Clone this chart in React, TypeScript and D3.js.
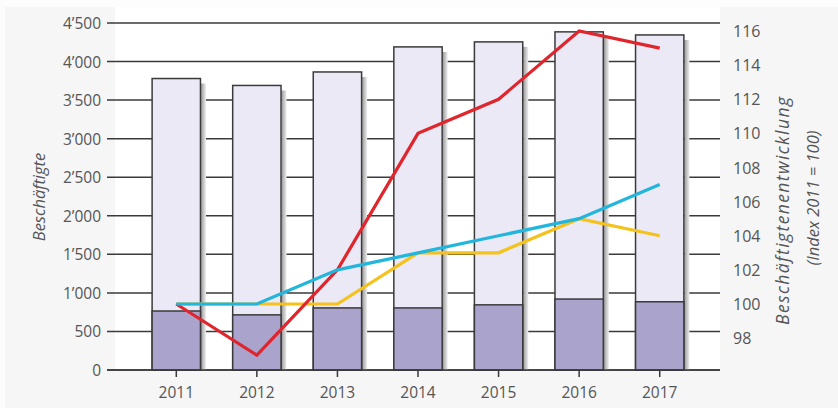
import React from "react";
import * as d3 from "d3";

const years = ["2011", "2012", "2013", "2014", "2015", "2016", "2017"];
// total employees (bar height) and lower segment
const totalValues = [3780, 3690, 3865, 4190, 4255, 4385, 4345];
const lowerValues = [765, 715, 805, 805, 845, 920, 885];
// index series (2011 = 100)
const redIndex = [100, 97, 102, 110, 112, 116, 115];
const yellowIndex = [100, 100, 100, 103, 103, 105, 104];
const blueIndex = [100, 100, 102, 103, 104, 105, 107];

const leftTicks = [0, 500, 1000, 1500, 2000, 2500, 3000, 3500, 4000, 4500];
const rightTicks = [98, 100, 102, 104, 106, 108, 110, 112, 114, 116];

const W = 838;
const H = 408;
const FONT = "'Open Sans', 'DejaVu Sans', sans-serif";
const TEXT = "#555";
const GRID = "#3a3a3a";

const fmt = d3.formatLocale({ decimal: ".", thousands: "\u2019", grouping: [3], currency: ["", ""] }).format(",d");

export default function App() {
  const x = d3.scaleBand<string>().domain(years).range([136, 700]).paddingInner(0.4).paddingOuter(0.2);
  const yL = d3.scaleLinear().domain([0, 4500]).range([370, 23]);
  const yR = d3.scaleLinear().domain([100, 116]).range([304, 31]);
  const bw = x.bandwidth();
  const cx = (y: string) => (x(y) || 0) + bw / 2;

  const line = d3
    .line<number>()
    .x((_, i) => cx(years[i]))
    .y((d) => yR(d));

  const series = [
    { values: yellowIndex, color: "#f4c21b" },
    { values: redIndex, color: "#e0252d" },
    { values: blueIndex, color: "#22b6dd" },
  ];

  return (
    <svg width={W} height={H} style={{ position: "absolute", left: 0, top: 0 }} fontFamily={FONT}>
      <defs>
        <linearGradient id="shadow" x1="0" x2="1" y1="0" y2="0">
          <stop offset="0%" stopColor="#9a9a9a" />
          <stop offset="100%" stopColor="#eeeeee" />
        </linearGradient>
      </defs>
      {/* backgrounds */}
      <rect x={0} y={0} width={W} height={H} fill="#f6f6f6" />
      <rect x={0} y={0} width={W} height={7} fill="#fdfdfd" />
      <rect x={0} y={0} width={5} height={H} fill="#fcfcfc" />
      <rect x={115} y={7} width={605} height={363} fill="#ffffff" />

      {/* gridlines */}
      {leftTicks.map((t) => (
        <line key={t} x1={107} x2={720} y1={yL(t)} y2={yL(t)} stroke={GRID} strokeWidth={1.5} />
      ))}

      {/* left tick labels */}
      {leftTicks.map((t) => (
        <text key={t} x={101} y={yL(t)} textAnchor="end" dominantBaseline="central" fontSize={15.5} fill={TEXT}>
          {fmt(t)}
        </text>
      ))}

      {/* right tick labels */}
      {rightTicks.map((t) => (
        <text key={t} x={733} y={yR(t)} textAnchor="start" dominantBaseline="central" fontSize={16} fill={TEXT}>
          {t}
        </text>
      ))}

      {/* bars */}
      {years.map((yr, i) => {
        const bx = x(yr) || 0;
        return (
          <g key={yr}>
            <rect x={bx + bw + 0.5} y={yL(totalValues[i]) + 5} width={5} height={yL(0) - yL(totalValues[i]) - 5} fill="url(#shadow)" />
            <rect x={bx} y={yL(totalValues[i])} width={bw} height={yL(0) - yL(totalValues[i])} fill="#ebe9f6" stroke={GRID} strokeWidth={1.5} />
            <rect x={bx} y={yL(lowerValues[i])} width={bw} height={yL(0) - yL(lowerValues[i])} fill="#aaa4cd" stroke={GRID} strokeWidth={1.5} />
            <line x1={cx(yr)} x2={cx(yr)} y1={370} y2={377} stroke={GRID} strokeWidth={1.5} />
            <text x={cx(yr)} y={392} textAnchor="middle" dominantBaseline="central" fontSize={15.5} fill={TEXT}>
              {yr}
            </text>
          </g>
        );
      })}
      <line x1={107} x2={720} y1={370} y2={370} stroke={GRID} strokeWidth={1.5} />

      {/* index lines */}
      {series.map((s) => (
        <path key={s.color} d={line(s.values) || ""} fill="none" stroke={s.color} strokeWidth={3.2} strokeLinejoin="miter" />
      ))}

      {/* axis titles */}
      <text transform="translate(38,197) rotate(-90)" textAnchor="middle" dominantBaseline="central" fontSize={16.5} fontStyle="italic" fill={TEXT}>
        Beschäftigte
      </text>
      <text transform="translate(782,211) rotate(-90)" textAnchor="middle" dominantBaseline="central" fontSize={17.5} fontStyle="italic" fill={TEXT} textLength={228}>
        Beschäftigtenentwicklung
      </text>
      <text transform="translate(812,198) rotate(-90)" textAnchor="middle" dominantBaseline="central" fontSize={16.5} fontStyle="italic" fill={TEXT}>
        (Index 2011 = 100)
      </text>
    </svg>
  );
}
